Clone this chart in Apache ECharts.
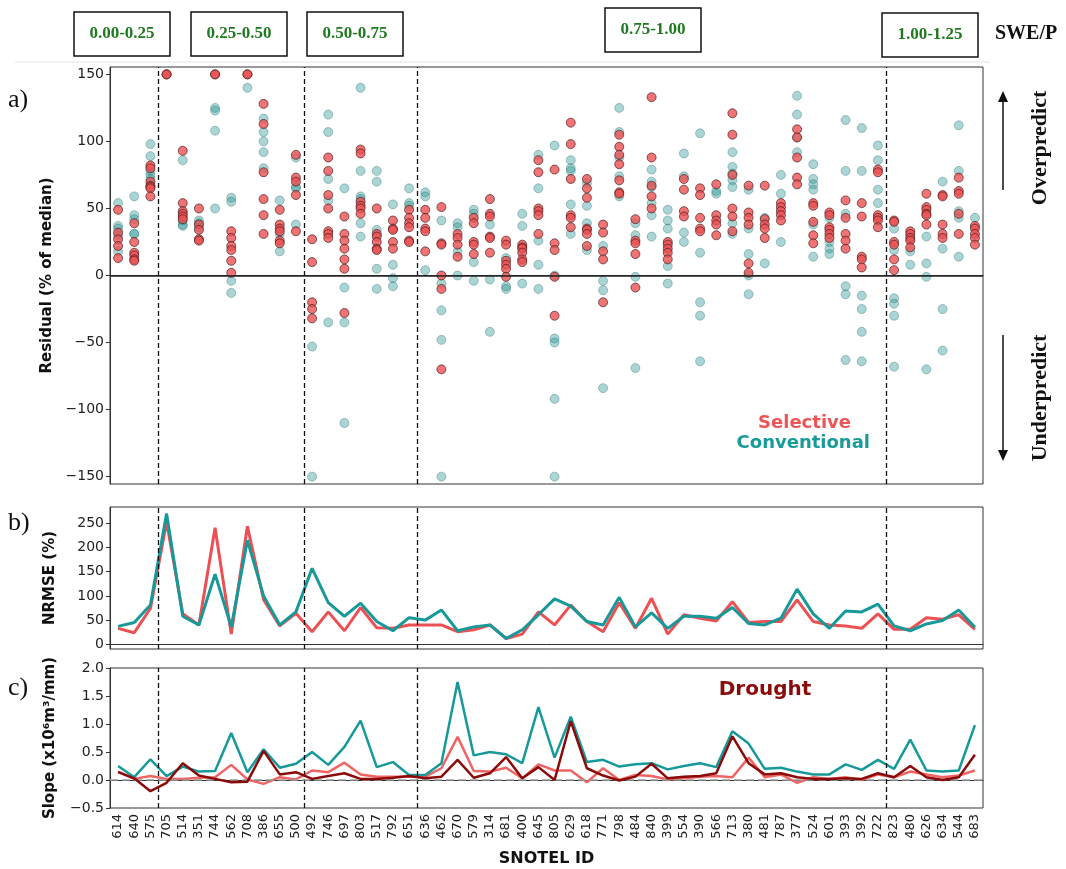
<!DOCTYPE html>
<html>
<head>
<meta charset="utf-8">
<script src="https://cdn.jsdelivr.net/npm/echarts@6/dist/echarts.min.js"></script>
<style>
html, body { margin: 0; padding: 0; background: #fff; }
#main { width: 1066px; height: 869px; }
</style>
</head>
<body>
<div id="main"></div>
<script>
"use strict";

var sites = ['614','640','575','705','514','351','744','562','708','386','655','500','492','746','697','803','517','792','651',
    '636','462','670','579','314','681','400','645','805','629','618','771','798','484','840','399','554','390','566','713',
    '380','481','787','377','524','601','393','392','722','823','480','626','634','544','683'];

// SWE/P class boundaries (index of first site in each new class)
var classBreaks = [3, 12, 19, 48];
var classLabels = ['0.00-0.25', '0.25-0.50', '0.50-0.75', '0.75-1.00', '1.00-1.25'];

// residuals (% of median), one list per site
var selectiveResid = [
    [49,32,27,22,13], [39,25,17,15,12,11], [82,80,70,67,66,65,59], [150,150], [93,54,48,46,44,42],
    [50,38,34,27,26], [150,150], [33,28,22,19,11,2], [150,150], [128,113,77,57,45,31],
    [49,38,35,33,26,24], [90,73,70,60,33], [27,10,-20,-25,-32], [88,78,60,50,33,31,28], [44,31,26,20,12,5,-28],
    [94,91,55,52,50,46], [50,31,29,25,20,19], [41,35,34,25,20], [49,43,39,36,26,25], [49,43,35,33,18],
    [51,24,23,0,-10,-70], [31,28,23,14], [43,39,25,23,16], [57,46,44,29,28,17], [26,23,11,8,5,-1],
    [23,21,20,17,12,10], [86,77,50,48,45,31], [79,24,19,-1,-30], [114,98,72,45,43,36], [72,65,58,35,34,31,22],
    [38,32,18,12,-20], [105,96,90,83,71,62,61], [42,26,24,16,-9], [133,88,67,59,50], [25,23,20,17,12],
    [72,64,48,44], [65,60,43,35,33], [68,45,41,38,30], [121,105,75,50,44,33], [67,47,43,38,9,2],
    [67,42,38,35,28], [54,51,48,45,41], [109,103,88,73,68], [54,52,40,30,24], [47,45,36,34,31,28],
    [56,43,31,26,20], [54,44,14,12,6], [79,77,45,43,41,36], [41,40,25,23,12,4], [33,31,28,26,21],
    [61,51,49,46,45,38], [60,59,38,31,28], [73,63,61,46,31], [37,35,31,28,23]
];
var conventionalResid = [
    [54,37,35,30,18], [59,45,42,31,31], [98,89,78,75,72], [150], [86,41,38,37],
    [41,39,36], [125,123,108,50], [58,55,-4,-13], [140], [117,107,100,92,80],
    [56,31,18], [88,66,65,38], [-53,-150], [120,107,72,56,-35], [65,-9,-35,-110],
    [140,78,59,57,39,29], [78,70,34,5,-10], [53,8,-2,-8], [65,54,52], [62,59,4],
    [41,-6,-26,-48,-150], [39,36,18,0], [49,46,10,-4], [38,-3,-42], [13,-8,-10],
    [46,37,-6], [90,65,26,8,-10], [97,0,-47,-50,-92,-150], [86,80,78,53,31], [69,52,39,19],
    [22,-4,-11,-84], [125,107,88,74,59], [39,30,-1,-69], [79,70,66,54,45,29], [49,41,35,7,-6],
    [91,74,32,25], [106,17,-20,-30,-64], [63,61], [92,81,76,71,66,39,31], [64,35,16,0,-14],
    [43,9], [75,61,25], [134,120,103,92], [83,72,68,64,38,14], [43,25,20,16],
    [116,78,46,-8,-14,-63], [110,78,-15,-25,-42,-64], [97,86,64,54], [35,19,-17,-21,-30,-68], [29,18,8],
    [29,9,-1,-70], [70,20,-25,-56], [112,78,48,43,14], [43]
];

// NRMSE (%)
var selectiveNrmse = [33,24,74,253,63,40,241,21,244,92,38,64,26,67,28,76,34,33,40,40,40,26,30,40,12,21,67,40,81,47,
    26,86,33,95,21,61,54,48,88,45,47,47,92,47,40,38,33,63,31,31,55,52,61,31];
var conventionalNrmse = [37,45,81,270,58,40,145,36,215,100,40,67,157,86,58,85,47,28,55,50,71,28,36,40,12,30,61,94,79,47,
    40,97,36,65,33,58,58,54,76,43,40,54,114,63,33,69,67,83,38,28,42,49,71,35];

// slope (x10^6 m^3/mm)
var selectiveSlope = [0.15,0.02,0.07,0.02,0.02,0.04,0.05,0.27,0.01,-0.07,0.05,0.01,0.17,0.14,0.31,0.10,0.06,0.06,0.06,0.06,
    0.21,0.77,0.16,0.15,0.22,0.03,0.28,0.17,0.17,-0.04,0.21,0.00,0.09,0.07,0.01,0.03,0.06,0.07,0.05,0.40,
    0.05,0.10,-0.05,0.05,0.02,0.05,0.00,0.10,0.05,0.15,0.10,0.05,0.08,0.17];
var conventionalSlope = [0.25,0.05,0.37,0.07,0.24,0.15,0.16,0.84,0.14,0.55,0.22,0.29,0.50,0.27,0.59,1.06,0.23,0.32,0.09,0.09,
    0.30,1.75,0.44,0.50,0.46,0.30,1.30,0.40,1.13,0.32,0.36,0.24,0.28,0.30,0.19,0.25,0.30,0.23,0.87,0.65,
    0.20,0.22,0.15,0.10,0.10,0.28,0.18,0.36,0.20,0.72,0.17,0.15,0.17,0.98];
var droughtSlope = [0.14,0.03,-0.20,-0.05,0.30,0.08,0.02,-0.04,-0.03,0.52,0.10,0.14,0.02,0.07,0.12,0.02,0.02,0.04,0.07,0.03,
    0.06,0.36,0.04,0.12,0.41,0.03,0.23,0.00,1.05,0.21,0.08,-0.01,0.06,0.29,0.03,0.06,0.07,0.12,0.78,0.30,
    0.10,0.12,0.05,0.02,0.02,0.03,0.02,0.12,0.05,0.25,0.05,0.00,0.05,0.45];

var RED = '#ec5053';
var TEAL = '#17999a';
var DARKRED = '#8b0a0a';
var FONT = 'DejaVu Sans';

function toPoints(groups) {
    var pts = [];
    groups.forEach(function (vals, i) {
        vals.forEach(function (v) { pts.push([i, v]); });
    });
    return pts;
}

function minus(v) { return String(v).replace('-', '\u2212'); }

var gridTops = [67, 507, 668];
var gridHeights = [417, 142, 140];

function catAxis(g, showLabels) {
    return {
        type: 'category', gridIndex: g, data: sites, boundaryGap: true,
        axisLine: { lineStyle: { color: '#333', width: 1 } },
        axisTick: { alignWithLabel: true, length: 4, lineStyle: { color: '#333' } },
        axisLabel: showLabels ? { rotate: 90, fontSize: 13, color: '#222', fontFamily: FONT, margin: 6, interval: 0 } : { show: false },
        name: showLabels ? 'SNOTEL ID' : '',
        nameLocation: 'middle', nameGap: 43,
        nameTextStyle: { fontSize: 16, fontWeight: 'bold', color: '#111', fontFamily: FONT }
    };
}

function hiddenAxis(g) {
    return { type: 'value', gridIndex: g, min: 0, max: sites.length, show: false };
}

function valAxis(g, opts) {
    var ax = {
        type: 'value', gridIndex: g, min: opts.min, max: opts.max,
        name: opts.name, nameLocation: 'middle', nameGap: opts.gap,
        nameTextStyle: { fontSize: 15, fontWeight: 'bold', color: '#111', fontFamily: FONT },
        axisLine: { show: true, lineStyle: { color: '#333' } },
        axisTick: { show: true, length: 4, lineStyle: { color: '#333' } },
        splitLine: { show: false },
        axisLabel: { fontSize: 14, color: '#222', fontFamily: FONT, margin: 6, formatter: opts.fmt }
    };
    if (opts.ticks) {
        ax.axisLabel.customValues = opts.ticks;
        ax.axisTick.customValues = opts.ticks;
    } else {
        ax.interval = opts.interval;
    }
    return ax;
}

function dividers(extra) {
    var data = classBreaks.map(function (b) { return { xAxis: b }; });
    return data.concat(extra || []);
}

function markerSeries(g, extra) {
    return {
        type: 'line', xAxisIndex: g + 3, yAxisIndex: g, data: [], z: 1, silent: true,
        markLine: {
            silent: true, symbol: ['none', 'none'], label: { show: false }, animation: false,
            lineStyle: { color: '#111', type: [5, 3], width: 1.3 },
            data: dividers(extra)
        }
    };
}

function lineSeries(name, data, g, color, width, z) {
    return {
        name: name, type: 'line', xAxisIndex: g, yAxisIndex: g, data: data, z: z,
        showSymbol: false, symbol: 'none', animation: false,
        lineStyle: { color: color, width: width }
    };
}

var option = {
    backgroundColor: '#fff',
    animation: false,
    grid: gridTops.map(function (t, i) {
        return { left: 110, right: 83, top: t, height: gridHeights[i], show: true, borderColor: '#333', borderWidth: 1, backgroundColor: 'transparent' };
    }),
    xAxis: [catAxis(0, false), catAxis(1, false), catAxis(2, true), hiddenAxis(0), hiddenAxis(1), hiddenAxis(2)],
    yAxis: [
        valAxis(0, { min: -155.5, max: 155.5, ticks: [-150, -100, -50, 0, 50, 100, 150], name: 'Residual (% of median)', gap: 54, fmt: minus }),
        valAxis(1, { min: -9.7, max: 283.7, ticks: [0, 50, 100, 150, 200, 250], name: 'NRMSE (%)', gap: 52, fmt: minus }),
        valAxis(2, { min: -0.5, max: 2.0, interval: 0.5, name: 'Slope (x10\u2076m\u00b3/mm)', gap: 52,
            fmt: function (v) { return minus(v.toFixed(1)); } })
    ],
    series: [
        markerSeries(0, [{ yAxis: 0, lineStyle: { type: 'solid', width: 1.5, color: '#222' } }]),
        markerSeries(1),
        markerSeries(2, [{ yAxis: 0, lineStyle: { type: [8, 4], width: 1.5, color: '#9a9a9a' } }]),
        {
            name: 'Conventional', type: 'scatter', xAxisIndex: 0, yAxisIndex: 0, z: 3,
            data: toPoints(conventionalResid), symbolSize: 9,
            itemStyle: { color: 'rgba(45,150,150,0.5)', borderColor: 'rgba(30,100,100,0.55)', borderWidth: 0.8 }
        },
        {
            name: 'Selective', type: 'scatter', xAxisIndex: 0, yAxisIndex: 0, z: 4,
            data: toPoints(selectiveResid), symbolSize: 9,
            itemStyle: { color: RED, borderColor: '#3a1515', borderWidth: 0.8 }
        },
        lineSeries('Selective', selectiveNrmse, 1, RED, 3, 3),
        lineSeries('Conventional', conventionalNrmse, 1, TEAL, 3, 4),
        lineSeries('Selective', selectiveSlope, 2, '#f06464', 2.5, 3),
        lineSeries('Conventional', conventionalSlope, 2, TEAL, 2.5, 4),
        lineSeries('Drought', droughtSlope, 2, DARKRED, 2.5, 5)
    ],
    graphic: []
};

// SWE/P class boxes along the top
var boxCenters = [[122, 34], [239, 34], [355, 34], [653, 30], [930, 35]];
boxCenters.forEach(function (c, i) {
    option.graphic.push({
        type: 'rect', shape: { x: c[0] - 48, y: c[1] - 22, width: 96, height: 44 },
        style: { fill: '#fff', stroke: '#111', lineWidth: 1.5 }
    });
    option.graphic.push({
        type: 'text', x: c[0], y: c[1],
        style: { text: classLabels[i], fill: '#1f7a1f', font: 'bold 17px "Liberation Serif"', align: 'center', verticalAlign: 'middle' }
    });
});
option.graphic.push(
    { type: 'text', x: 995, y: 34, style: { text: 'SWE/P', fill: '#111', font: 'bold 20px "Liberation Serif"', verticalAlign: 'middle' } },
    { type: 'line', shape: { x1: 15, y1: 62, x2: 990, y2: 62 }, style: { stroke: '#e4e4e4', lineWidth: 1 } },
    { type: 'text', x: 8, y: 100, style: { text: 'a)', fill: '#111', font: '26px "Liberation Serif"', verticalAlign: 'middle' } },
    { type: 'text', x: 8, y: 523, style: { text: 'b)', fill: '#111', font: '26px "Liberation Serif"', verticalAlign: 'middle' } },
    { type: 'text', x: 8, y: 688, style: { text: 'c)', fill: '#111', font: '26px "Liberation Serif"', verticalAlign: 'middle' } },
    { type: 'text', x: 851, y: 423, style: { text: 'Selective', fill: '#ee5557', font: 'bold 18px "DejaVu Sans"', align: 'right', verticalAlign: 'middle' } },
    { type: 'text', x: 870, y: 443, style: { text: 'Conventional', fill: '#1a9b9b', font: 'bold 18px "DejaVu Sans"', align: 'right', verticalAlign: 'middle' } },
    { type: 'text', x: 765, y: 690, style: { text: 'Drought', fill: DARKRED, font: 'bold 20px "DejaVu Sans"', align: 'center', verticalAlign: 'middle' } },
    { type: 'text', x: 1040, y: 148, rotation: Math.PI / 2,
        style: { text: 'Overpredict', fill: '#111', font: 'bold 22px "Liberation Serif"', align: 'center', verticalAlign: 'middle' } },
    { type: 'text', x: 1040, y: 398, rotation: Math.PI / 2,
        style: { text: 'Underpredict', fill: '#111', font: 'bold 22px "Liberation Serif"', align: 'center', verticalAlign: 'middle' } },
    { type: 'line', shape: { x1: 1003, y1: 190, x2: 1003, y2: 100 }, style: { stroke: '#111', lineWidth: 1.5 } },
    { type: 'polygon', shape: { points: [[998, 102], [1008, 102], [1003, 91]] }, style: { fill: '#111' } },
    { type: 'line', shape: { x1: 1003, y1: 335, x2: 1003, y2: 452 }, style: { stroke: '#111', lineWidth: 1.5 } },
    { type: 'polygon', shape: { points: [[998, 450], [1008, 450], [1003, 461]] }, style: { fill: '#111' } }
);

var myChart = echarts.init(document.getElementById('main'));
myChart.setOption(option);
</script>
</body>
</html>
